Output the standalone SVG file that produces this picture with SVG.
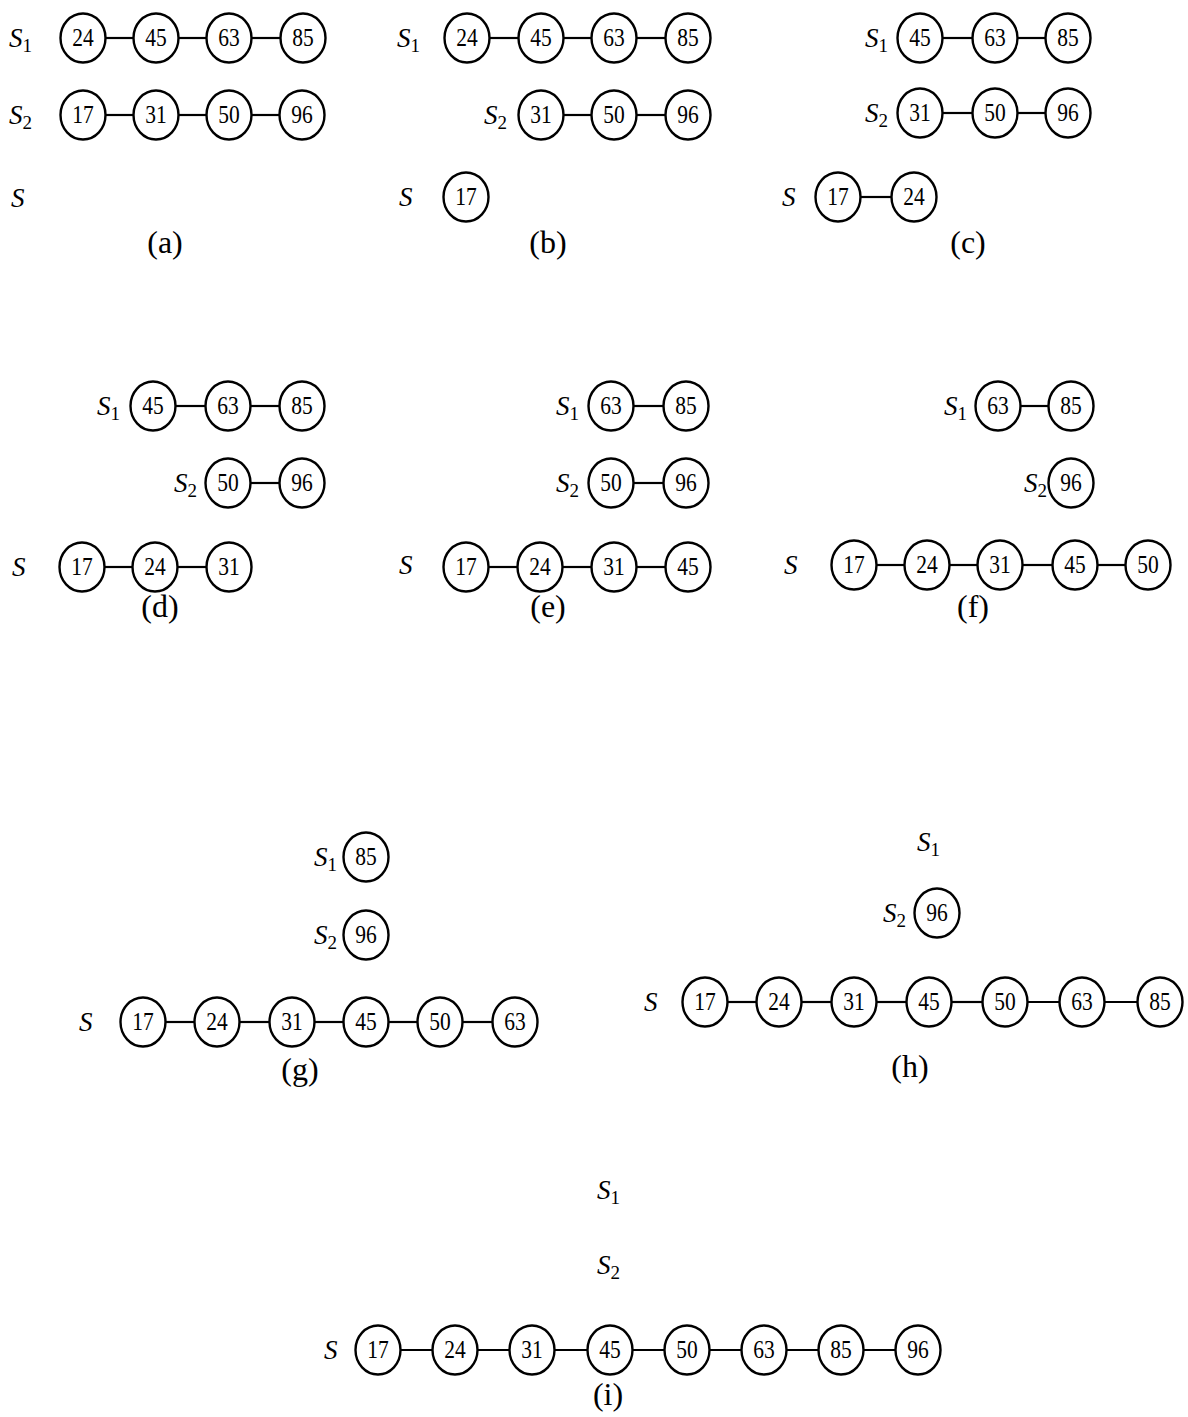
<svg xmlns="http://www.w3.org/2000/svg" width="1188" height="1417" viewBox="0 0 1188 1417">
<style>
#c{fill:#fff;stroke:#000;stroke-width:2.4}
.n text{font-family:"Liberation Serif","Times New Roman",serif;font-size:25px;text-anchor:middle;transform:scale(.86,1)}
.lab{font-family:"Liberation Serif","Times New Roman",serif;font-style:italic;font-size:27px}
.sub{font-style:normal;font-size:19px}
.cap{font-family:"Liberation Serif","Times New Roman",serif;font-size:32px;text-anchor:middle}
#edges line{stroke:#000;stroke-width:2.2}
</style>
<defs>
<ellipse id="c" rx="22.5" ry="24.5"/>
</defs>
<rect width="1188" height="1417" fill="#fff"/>

<g id="edges">
<line x1="105" y1="38" x2="134" y2="38"/><line x1="178" y1="38" x2="207" y2="38"/><line x1="251" y1="38" x2="281" y2="38"/>
<line x1="105" y1="115" x2="134" y2="115"/><line x1="178" y1="115" x2="207" y2="115"/><line x1="251" y1="115" x2="280" y2="115"/>
<line x1="489" y1="38" x2="519" y2="38"/><line x1="563" y1="38" x2="592" y2="38"/><line x1="636" y1="38" x2="666" y2="38"/>
<line x1="563" y1="115" x2="592" y2="115"/><line x1="636" y1="115" x2="666" y2="115"/>
<line x1="942" y1="38" x2="973" y2="38"/><line x1="1017" y1="38" x2="1046" y2="38"/>
<line x1="942" y1="113" x2="973" y2="113"/><line x1="1017" y1="113" x2="1046" y2="113"/>
<line x1="860" y1="197" x2="892" y2="197"/>
<line x1="175" y1="406" x2="206" y2="406"/><line x1="250" y1="406" x2="280" y2="406"/>
<line x1="250" y1="483" x2="280" y2="483"/>
<line x1="104" y1="567" x2="133" y2="567"/><line x1="177" y1="567" x2="207" y2="567"/>
<line x1="633" y1="406" x2="664" y2="406"/>
<line x1="633" y1="483" x2="664" y2="483"/>
<line x1="488" y1="567" x2="518" y2="567"/><line x1="562" y1="567" x2="592" y2="567"/><line x1="636" y1="567" x2="666" y2="567"/>
<line x1="1020" y1="406" x2="1049" y2="406"/>
<line x1="876" y1="565" x2="905" y2="565"/><line x1="949" y1="565" x2="978" y2="565"/><line x1="1022" y1="565" x2="1053" y2="565"/><line x1="1097" y1="565" x2="1126" y2="565"/>
<line x1="165" y1="1022" x2="195" y2="1022"/><line x1="239" y1="1022" x2="270" y2="1022"/><line x1="314" y1="1022" x2="344" y2="1022"/><line x1="388" y1="1022" x2="418" y2="1022"/><line x1="462" y1="1022" x2="493" y2="1022"/>
<line x1="727" y1="1002" x2="757" y2="1002"/><line x1="801" y1="1002" x2="832" y2="1002"/><line x1="876" y1="1002" x2="907" y2="1002"/><line x1="951" y1="1002" x2="983" y2="1002"/><line x1="1027" y1="1002" x2="1060" y2="1002"/><line x1="1104" y1="1002" x2="1138" y2="1002"/>
<line x1="400" y1="1350" x2="433" y2="1350"/><line x1="477" y1="1350" x2="510" y2="1350"/><line x1="554" y1="1350" x2="588" y2="1350"/><line x1="632" y1="1350" x2="665" y2="1350"/><line x1="709" y1="1350" x2="742" y2="1350"/><line x1="786" y1="1350" x2="819" y2="1350"/><line x1="863" y1="1350" x2="896" y2="1350"/>
</g>

<g id="labels">
<text class="lab" x="9" y="47">S<tspan class="sub" dy="5">1</tspan></text>
<text class="lab" x="9" y="124">S<tspan class="sub" dy="5">2</tspan></text>
<text class="lab" x="11" y="207">S</text>
<text class="cap" x="165" y="253">(a)</text>

<text class="lab" x="397" y="47">S<tspan class="sub" dy="5">1</tspan></text>
<text class="lab" x="484" y="124">S<tspan class="sub" dy="5">2</tspan></text>
<text class="lab" x="399" y="206">S</text>
<text class="cap" x="548" y="253">(b)</text>

<text class="lab" x="865" y="47">S<tspan class="sub" dy="5">1</tspan></text>
<text class="lab" x="865" y="122">S<tspan class="sub" dy="5">2</tspan></text>
<text class="lab" x="782" y="206">S</text>
<text class="cap" x="968" y="253">(c)</text>

<text class="lab" x="97" y="415">S<tspan class="sub" dy="5">1</tspan></text>
<text class="lab" x="174" y="492">S<tspan class="sub" dy="5">2</tspan></text>
<text class="lab" x="12" y="576">S</text>
<text class="cap" x="160" y="617">(d)</text>

<text class="lab" x="556" y="415">S<tspan class="sub" dy="5">1</tspan></text>
<text class="lab" x="556" y="492">S<tspan class="sub" dy="5">2</tspan></text>
<text class="lab" x="399" y="574">S</text>
<text class="cap" x="548" y="617">(e)</text>

<text class="lab" x="944" y="415">S<tspan class="sub" dy="5">1</tspan></text>
<text class="lab" x="1024" y="492">S<tspan class="sub" dy="5">2</tspan></text>
<text class="lab" x="784" y="574">S</text>
<text class="cap" x="973" y="617">(f)</text>

<text class="lab" x="314" y="866">S<tspan class="sub" dy="5">1</tspan></text>
<text class="lab" x="314" y="944">S<tspan class="sub" dy="5">2</tspan></text>
<text class="lab" x="79" y="1031">S</text>
<text class="cap" x="300" y="1080">(g)</text>

<text class="lab" x="917" y="851">S<tspan class="sub" dy="5">1</tspan></text>
<text class="lab" x="883" y="922">S<tspan class="sub" dy="5">2</tspan></text>
<text class="lab" x="644" y="1011">S</text>
<text class="cap" x="910" y="1077">(h)</text>

<text class="lab" x="597" y="1199">S<tspan class="sub" dy="5">1</tspan></text>
<text class="lab" x="597" y="1274">S<tspan class="sub" dy="5">2</tspan></text>
<text class="lab" x="324" y="1359">S</text>
<text class="cap" x="608" y="1405">(i)</text>
</g>

<g id="a-s1-24" class="n" transform="translate(83,38)"><use href="#c"/><text y="8">24</text></g>
<g id="a-s1-45" class="n" transform="translate(156,38)"><use href="#c"/><text y="8">45</text></g>
<g id="a-s1-63" class="n" transform="translate(229,38)"><use href="#c"/><text y="8">63</text></g>
<g id="a-s1-85" class="n" transform="translate(303,38)"><use href="#c"/><text y="8">85</text></g>
<g id="a-s2-17" class="n" transform="translate(83,115)"><use href="#c"/><text y="8">17</text></g>
<g id="a-s2-31" class="n" transform="translate(156,115)"><use href="#c"/><text y="8">31</text></g>
<g id="a-s2-50" class="n" transform="translate(229,115)"><use href="#c"/><text y="8">50</text></g>
<g id="a-s2-96" class="n" transform="translate(302,115)"><use href="#c"/><text y="8">96</text></g>
<g id="b-s1-24" class="n" transform="translate(467,38)"><use href="#c"/><text y="8">24</text></g>
<g id="b-s1-45" class="n" transform="translate(541,38)"><use href="#c"/><text y="8">45</text></g>
<g id="b-s1-63" class="n" transform="translate(614,38)"><use href="#c"/><text y="8">63</text></g>
<g id="b-s1-85" class="n" transform="translate(688,38)"><use href="#c"/><text y="8">85</text></g>
<g id="b-s2-31" class="n" transform="translate(541,115)"><use href="#c"/><text y="8">31</text></g>
<g id="b-s2-50" class="n" transform="translate(614,115)"><use href="#c"/><text y="8">50</text></g>
<g id="b-s2-96" class="n" transform="translate(688,115)"><use href="#c"/><text y="8">96</text></g>
<g id="b-s-17" class="n" transform="translate(466,197)"><use href="#c"/><text y="8">17</text></g>
<g id="c-s1-45" class="n" transform="translate(920,38)"><use href="#c"/><text y="8">45</text></g>
<g id="c-s1-63" class="n" transform="translate(995,38)"><use href="#c"/><text y="8">63</text></g>
<g id="c-s1-85" class="n" transform="translate(1068,38)"><use href="#c"/><text y="8">85</text></g>
<g id="c-s2-31" class="n" transform="translate(920,113)"><use href="#c"/><text y="8">31</text></g>
<g id="c-s2-50" class="n" transform="translate(995,113)"><use href="#c"/><text y="8">50</text></g>
<g id="c-s2-96" class="n" transform="translate(1068,113)"><use href="#c"/><text y="8">96</text></g>
<g id="c-s-17" class="n" transform="translate(838,197)"><use href="#c"/><text y="8">17</text></g>
<g id="c-s-24" class="n" transform="translate(914,197)"><use href="#c"/><text y="8">24</text></g>
<g id="d-s1-45" class="n" transform="translate(153,406)"><use href="#c"/><text y="8">45</text></g>
<g id="d-s1-63" class="n" transform="translate(228,406)"><use href="#c"/><text y="8">63</text></g>
<g id="d-s1-85" class="n" transform="translate(302,406)"><use href="#c"/><text y="8">85</text></g>
<g id="d-s2-50" class="n" transform="translate(228,483)"><use href="#c"/><text y="8">50</text></g>
<g id="d-s2-96" class="n" transform="translate(302,483)"><use href="#c"/><text y="8">96</text></g>
<g id="d-s-17" class="n" transform="translate(82,567)"><use href="#c"/><text y="8">17</text></g>
<g id="d-s-24" class="n" transform="translate(155,567)"><use href="#c"/><text y="8">24</text></g>
<g id="d-s-31" class="n" transform="translate(229,567)"><use href="#c"/><text y="8">31</text></g>
<g id="e-s1-63" class="n" transform="translate(611,406)"><use href="#c"/><text y="8">63</text></g>
<g id="e-s1-85" class="n" transform="translate(686,406)"><use href="#c"/><text y="8">85</text></g>
<g id="e-s2-50" class="n" transform="translate(611,483)"><use href="#c"/><text y="8">50</text></g>
<g id="e-s2-96" class="n" transform="translate(686,483)"><use href="#c"/><text y="8">96</text></g>
<g id="e-s-17" class="n" transform="translate(466,567)"><use href="#c"/><text y="8">17</text></g>
<g id="e-s-24" class="n" transform="translate(540,567)"><use href="#c"/><text y="8">24</text></g>
<g id="e-s-31" class="n" transform="translate(614,567)"><use href="#c"/><text y="8">31</text></g>
<g id="e-s-45" class="n" transform="translate(688,567)"><use href="#c"/><text y="8">45</text></g>
<g id="f-s1-63" class="n" transform="translate(998,406)"><use href="#c"/><text y="8">63</text></g>
<g id="f-s1-85" class="n" transform="translate(1071,406)"><use href="#c"/><text y="8">85</text></g>
<g id="f-s2-96" class="n" transform="translate(1071,483)"><use href="#c"/><text y="8">96</text></g>
<g id="f-s-17" class="n" transform="translate(854,565)"><use href="#c"/><text y="8">17</text></g>
<g id="f-s-24" class="n" transform="translate(927,565)"><use href="#c"/><text y="8">24</text></g>
<g id="f-s-31" class="n" transform="translate(1000,565)"><use href="#c"/><text y="8">31</text></g>
<g id="f-s-45" class="n" transform="translate(1075,565)"><use href="#c"/><text y="8">45</text></g>
<g id="f-s-50" class="n" transform="translate(1148,565)"><use href="#c"/><text y="8">50</text></g>
<g id="g-s1-85" class="n" transform="translate(366,857)"><use href="#c"/><text y="8">85</text></g>
<g id="g-s2-96" class="n" transform="translate(366,935)"><use href="#c"/><text y="8">96</text></g>
<g id="g-s-17" class="n" transform="translate(143,1022)"><use href="#c"/><text y="8">17</text></g>
<g id="g-s-24" class="n" transform="translate(217,1022)"><use href="#c"/><text y="8">24</text></g>
<g id="g-s-31" class="n" transform="translate(292,1022)"><use href="#c"/><text y="8">31</text></g>
<g id="g-s-45" class="n" transform="translate(366,1022)"><use href="#c"/><text y="8">45</text></g>
<g id="g-s-50" class="n" transform="translate(440,1022)"><use href="#c"/><text y="8">50</text></g>
<g id="g-s-63" class="n" transform="translate(515,1022)"><use href="#c"/><text y="8">63</text></g>
<g id="h-s2-96" class="n" transform="translate(937,913)"><use href="#c"/><text y="8">96</text></g>
<g id="h-s-17" class="n" transform="translate(705,1002)"><use href="#c"/><text y="8">17</text></g>
<g id="h-s-24" class="n" transform="translate(779,1002)"><use href="#c"/><text y="8">24</text></g>
<g id="h-s-31" class="n" transform="translate(854,1002)"><use href="#c"/><text y="8">31</text></g>
<g id="h-s-45" class="n" transform="translate(929,1002)"><use href="#c"/><text y="8">45</text></g>
<g id="h-s-50" class="n" transform="translate(1005,1002)"><use href="#c"/><text y="8">50</text></g>
<g id="h-s-63" class="n" transform="translate(1082,1002)"><use href="#c"/><text y="8">63</text></g>
<g id="h-s-85" class="n" transform="translate(1160,1002)"><use href="#c"/><text y="8">85</text></g>
<g id="i-s-17" class="n" transform="translate(378,1350)"><use href="#c"/><text y="8">17</text></g>
<g id="i-s-24" class="n" transform="translate(455,1350)"><use href="#c"/><text y="8">24</text></g>
<g id="i-s-31" class="n" transform="translate(532,1350)"><use href="#c"/><text y="8">31</text></g>
<g id="i-s-45" class="n" transform="translate(610,1350)"><use href="#c"/><text y="8">45</text></g>
<g id="i-s-50" class="n" transform="translate(687,1350)"><use href="#c"/><text y="8">50</text></g>
<g id="i-s-63" class="n" transform="translate(764,1350)"><use href="#c"/><text y="8">63</text></g>
<g id="i-s-85" class="n" transform="translate(841,1350)"><use href="#c"/><text y="8">85</text></g>
<g id="i-s-96" class="n" transform="translate(918,1350)"><use href="#c"/><text y="8">96</text></g>
</svg>
